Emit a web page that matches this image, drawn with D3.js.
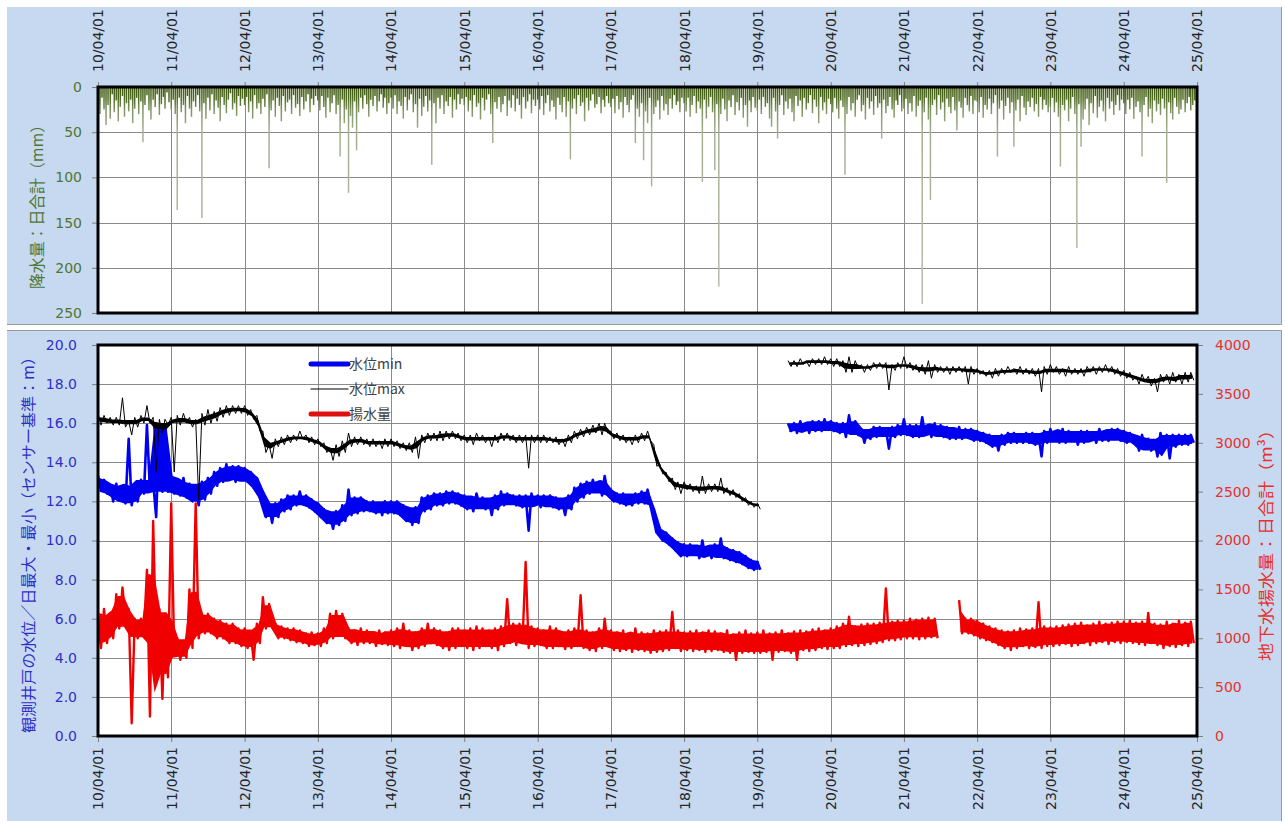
<!DOCTYPE html>
<html><head><meta charset="utf-8">
<script src="https://cdn.jsdelivr.net/npm/d3@7"></script>
<style>
body{margin:0;background:#fff;}
svg{display:block;font-family:"DejaVu Sans","Noto Sans CJK JP",sans-serif;}
</style></head><body>
<svg id="c" width="1285" height="823"></svg>
<script>
// ---------- DATA ----------
const xTickLabels = ["10/04/01","11/04/01","12/04/01","13/04/01","14/04/01","15/04/01","16/04/01","17/04/01","18/04/01","19/04/01","20/04/01","21/04/01","22/04/01","23/04/01","24/04/01","25/04/01"];
const rainTicks = [0,50,100,150,200,250];
const levelTicks = [0,2,4,6,8,10,12,14,16,18,20];
const pumpTicks = [0,500,1000,1500,2000,2500,3000,3500,4000];
const seriesNames = ["水位min","水位max","揚水量"];

// daily rainfall, shown as one value per 10-day period (mm), Apr..Mar per year
const rain2010 = [18,30,12,25,42,20,35,8,28,15,38,22,10,33,18,27,14,40,24,12,30,16,61,20,9,26,36,14,22,8,31,19,11,24,6,17];
const rain2011 = [25,14,30,136,12,28,20,40,10,24,33,16,22,9,27,145,18,35,12,26,8,30,15,23,38,11,20,29,14,7,25,18,32,10,21,13];
const rain2012 = [20,11,28,16,35,9,24,18,30,13,22,8,90,26,15,33,12,21,38,10,27,17,14,30,9,23,19,32,11,25,16,8,28,13,20,10];
const rain2013 = [15,26,10,22,34,12,28,18,9,30,20,77,14,40,25,117,32,45,16,70,28,12,24,9,19,33,14,21,10,27,16,8,23,12,30,18];
const rain2014 = [12,24,9,30,16,21,35,11,26,14,8,28,19,45,13,32,22,10,27,15,86,18,40,12,24,9,30,16,21,11,34,14,25,8,19,13];
const rain2015 = [20,11,27,15,33,9,22,18,36,12,26,14,8,30,62,17,24,11,28,19,10,32,15,23,9,27,13,20,35,11,24,16,8,29,14,21];
const rain2016 = [14,25,10,31,18,9,27,15,22,36,12,20,28,11,33,16,80,24,13,30,9,21,17,38,12,26,15,8,23,19,11,29,14,22,10,18];
const rain2017 = [22,13,29,10,25,17,34,11,20,28,14,9,62,24,33,18,81,27,40,12,110,30,22,15,36,10,26,19,31,13,24,9,20,16,28,12];
const rain2018 = [18,27,12,33,20,10,29,16,24,105,14,35,22,11,28,92,19,221,30,13,25,38,15,22,9,31,17,26,12,34,20,44,15,28,11,23];
const rain2019 = [26,14,30,11,22,18,35,44,12,27,57,20,9,31,16,24,13,28,38,10,21,15,33,12,25,18,9,29,14,22,40,11,26,17,30,13];
const rain2020 = [19,28,12,24,35,15,22,97,30,11,26,18,33,14,9,27,20,36,12,24,16,31,10,23,18,57,14,29,21,11,25,34,15,20,9,27];
const rain2021 = [24,13,30,18,27,10,33,21,15,240,28,12,36,125,20,14,31,9,25,17,38,13,22,29,11,26,48,16,23,34,12,20,27,10,30,15];
const rain2022 = [16,28,11,34,20,25,13,30,18,9,77,24,15,36,21,12,29,17,66,26,14,38,10,23,31,16,22,12,27,19,33,11,25,14,20,28];
const rain2023 = [22,12,28,17,33,88,20,26,14,38,24,11,30,178,19,66,36,25,13,42,18,29,10,34,22,15,27,38,12,24,16,31,20,9,26,14];
const rain2024 = [18,30,14,25,12,35,22,16,28,77,20,11,33,24,40,15,27,19,31,13,24,106,17,29,36,12,22,30,25,14,28,18,11,26,20,15];

// monthly [low, high] envelope of the daily minimum water level (m), Apr 2010 .. Mar 2025
const levelMin = [
[12.6,13.3],[12.4,13.1],[12.0,12.8],[12.2,12.9],[11.9,12.6],[11.8,15.2],[12.0,12.8],[12.4,13.1],[12.6,15.9],[11.2,13.0],[12.5,15.9],[12.5,15.9],
[12.4,13.3],[12.3,13.0],[12.2,13.2],[12.0,12.9],[11.8,12.7],[12.1,13.0],[12.4,13.2],[12.8,13.5],[13.0,13.7],[13.1,13.9],[13.0,13.8],[13.1,13.8],
[13.0,13.7],[12.7,13.5],[12.2,13.2],[11.2,12.5],[10.9,11.8],[11.2,11.9],[11.5,12.1],[11.6,12.3],[11.8,12.3],[11.9,12.5],[11.7,12.3],[11.5,12.1],
[11.2,11.9],[10.9,11.6],[10.6,11.3],[10.8,11.5],[11.0,11.8],[11.3,12.6],[11.4,12.2],[11.5,12.2],[11.5,12.0],[11.4,12.0],[11.3,11.9],[11.4,12.0],
[11.4,12.0],[11.3,12.0],[11.0,11.8],[10.8,11.6],[10.9,11.7],[11.5,12.2],[11.6,12.3],[11.8,12.4],[11.8,12.4],[11.9,12.5],[11.9,12.5],[11.8,12.4],
[11.6,12.3],[11.5,12.2],[11.8,12.4],[11.6,12.2],[11.3,12.1],[11.6,12.3],[11.8,12.5],[11.9,12.4],[11.8,12.3],[11.7,12.3],[10.5,12.3],[11.8,12.4],
[11.7,12.3],[11.8,12.3],[11.7,12.3],[11.6,12.2],[11.3,12.0],[11.6,12.3],[12.0,12.7],[12.2,12.9],[12.4,13.0],[12.5,13.1],[12.3,13.0],[12.4,13.3],
[12.0,12.6],[11.9,12.4],[11.8,12.4],[11.8,12.3],[11.9,12.4],[11.9,12.5],[11.8,12.6],[10.4,11.6],[10.0,10.6],[9.8,10.4],[9.5,10.1],[9.2,9.9],
[9.2,9.8],[9.3,9.8],[9.1,9.7],[9.2,10.0],[9.1,9.7],[9.2,9.8],[9.1,10.1],[9.0,9.6],[8.9,9.5],[8.8,9.4],[8.6,9.2],[8.5,9.0],
[8.5,8.9],null,null,null,null,[15.6,16.0],[15.5,16.0],[15.6,16.1],[15.5,16.0],[15.6,16.1],[15.6,16.1],[15.7,16.2],
[15.6,16.1],[15.5,16.0],[15.3,16.0],[15.5,16.4],[15.4,16.1],[15.0,15.7],[15.2,15.6],[15.3,15.8],[15.4,15.8],[14.7,15.7],[15.3,15.8],[15.4,15.9],
[15.4,16.2],[15.3,15.9],[15.3,15.9],[15.4,16.3],[15.3,15.9],[15.4,16.0],[15.3,15.9],[15.2,15.8],[15.2,15.7],[15.2,15.8],[15.3,15.7],[15.1,15.7],
[15.1,15.6],[15.0,15.5],[14.8,15.4],[14.6,15.3],[14.9,15.4],[15.0,15.5],[15.0,15.5],[15.0,15.4],[15.0,15.5],[14.9,15.5],[14.3,15.4],[15.0,15.6],
[15.1,15.7],[15.0,15.6],[15.0,15.7],[15.1,15.6],[14.9,15.5],[15.0,15.6],[15.1,15.6],[15.0,15.5],[15.1,15.7],[15.1,15.6],[15.2,15.7],[15.1,15.7],
[15.0,15.6],[15.0,15.5],[14.6,15.3],[14.7,15.4],[14.6,15.2],[14.3,15.1],[14.8,15.5],[14.2,15.4],[14.8,15.4],[14.9,15.4],[14.9,15.4],[15.0,15.4]
];

// monthly [low, high] envelope of the daily maximum water level (m)
const levelMax = [
[15.9,16.5],[16.0,16.4],[15.9,16.3],[15.9,16.3],[15.8,17.3],[15.4,16.1],[15.8,16.3],[16.0,16.4],[16.0,16.9],[13.5,16.3],[15.5,16.2],[15.9,16.2],
[13.5,16.3],[15.9,16.4],[16.0,16.5],[15.8,16.3],[12.1,16.2],[15.9,16.5],[16.0,16.7],[16.1,16.6],[16.3,16.8],[16.4,16.9],[16.5,16.9],[16.5,16.9],
[16.4,16.9],[16.2,16.7],[15.6,16.4],[14.5,15.6],[14.2,14.9],[14.8,15.2],[14.9,15.3],[15.0,15.4],[15.1,15.4],[15.2,15.6],[15.0,15.4],[14.9,15.3],
[14.8,15.2],[14.5,15.0],[14.1,14.7],[14.3,14.9],[14.5,15.1],[14.8,15.5],[14.9,15.3],[14.9,15.3],[14.8,15.2],[14.8,15.2],[14.7,15.1],[14.8,15.2],
[14.8,15.2],[14.7,15.1],[14.6,15.0],[14.5,15.0],[14.2,15.3],[15.0,15.4],[15.1,15.5],[15.1,15.5],[15.1,15.6],[15.2,15.6],[15.2,15.6],[15.1,15.5],
[15.0,15.4],[14.9,15.4],[15.1,15.5],[15.0,15.4],[14.8,15.3],[15.0,15.4],[15.1,15.5],[15.1,15.5],[15.0,15.4],[15.0,15.4],[13.7,15.4],[15.0,15.4],
[15.0,15.4],[15.0,15.4],[15.0,15.3],[14.9,15.3],[14.8,15.2],[15.0,15.4],[15.2,15.6],[15.3,15.7],[15.4,15.8],[15.5,15.9],[15.4,16.0],[15.5,16.0],
[15.2,15.6],[15.1,15.5],[15.0,15.4],[14.9,15.3],[15.0,15.4],[15.1,15.5],[15.1,15.6],[13.8,14.9],[13.4,13.9],[13.0,13.5],[12.6,13.2],[12.4,13.0],
[12.6,13.0],[12.5,12.9],[12.4,12.8],[12.4,13.3],[12.5,12.9],[12.5,12.9],[12.4,13.2],[12.3,12.7],[12.2,12.6],[12.0,12.4],[11.8,12.2],[11.7,12.0],
[11.6,11.9],null,null,null,null,[18.9,19.2],[18.9,19.2],[19.0,19.3],[18.9,19.2],[19.0,19.3],[19.0,19.3],[19.0,19.4],
[18.9,19.3],[18.9,19.3],[18.6,19.2],[18.6,19.4],[18.8,19.2],[18.6,19.0],[18.7,19.0],[18.8,19.1],[18.8,19.1],[17.7,19.1],[18.7,19.0],[18.8,19.1],
[18.8,19.4],[18.7,19.1],[18.6,19.0],[18.5,19.0],[18.3,19.2],[18.6,19.0],[18.6,18.9],[18.5,18.9],[18.6,18.9],[18.6,18.9],[18.0,18.9],[18.5,18.9],
[18.5,18.8],[18.4,18.7],[18.3,18.7],[18.4,18.8],[18.5,18.8],[18.6,18.9],[18.5,18.8],[18.5,18.9],[18.5,18.8],[18.4,18.8],[17.6,18.8],[18.5,18.9],
[18.6,19.0],[18.5,18.9],[18.4,18.8],[18.5,18.9],[18.5,18.8],[18.4,18.8],[18.6,18.9],[18.5,18.9],[18.6,18.9],[18.6,19.0],[18.5,18.9],[18.4,18.8],
[18.3,18.7],[18.2,18.6],[18.0,18.4],[18.1,18.5],[17.9,18.4],[17.6,18.3],[18.1,18.5],[18.0,18.5],[18.1,18.6],[18.0,18.5],[18.1,18.6],[18.2,18.6]
];

// monthly [low, high] envelope of daily groundwater pumping (m3)
const pumping = [
[900,1250],[950,1300],[1000,1250],[1100,1450],[1200,1520],[130,1300],[1000,1200],[1050,1200],[200,1700],[900,2200],[380,1300],[600,1200],
[850,2380],[780,1000],[800,950],[900,1500],[1000,2380],[1050,1250],[1050,1250],[1000,1200],[1000,1180],[950,1150],[950,1150],[920,1100],
[900,1100],[780,1050],[950,1150],[1100,1420],[1150,1350],[1000,1150],[1000,1120],[980,1100],[960,1100],[950,1080],[920,1050],[930,1060],
[920,1050],[950,1100],[1000,1250],[1050,1280],[1000,1250],[950,1100],[930,1080],[950,1100],[950,1080],[920,1060],[940,1080],[930,1060],
[920,1080],[900,1100],[930,1150],[880,1080],[900,1060],[920,1100],[950,1150],[930,1100],[900,1080],[880,1050],[900,1100],[920,1100],
[900,1080],[880,1100],[900,1120],[920,1100],[900,1080],[880,1100],[920,1120],[950,1400],[930,1150],[950,1150],[900,1780],[920,1120],
[930,1100],[900,1080],[900,1120],[920,1100],[890,1060],[900,1080],[920,1100],[900,1440],[880,1080],[870,1060],[900,1100],[920,1200],
[880,1080],[870,1060],[880,1080],[860,1050],[880,1100],[870,1060],[850,1050],[860,1080],[870,1070],[880,1080],[900,1270],[870,1080],
[880,1060],[870,1070],[880,1080],[860,1060],[870,1080],[880,1070],[860,1050],[850,1080],[780,1040],[850,1060],[860,1080],[850,1050],
[850,1060],[860,1080],[780,1050],[860,1060],[870,1080],[850,1050],[780,1070],[880,1080],[870,1070],[880,1090],[900,1100],[890,1080],
[900,1100],[900,1120],[920,1150],[930,1220],[920,1120],[930,1140],[940,1150],[950,1150],[960,1160],[980,1510],[980,1170],[990,1180],
[1000,1180],[1000,1200],[990,1190],[1000,1200],[1010,1210],[1000,1200],null,null,null,[1050,1390],[1050,1200],[1030,1200],
[1000,1180],[980,1150],[960,1120],[930,1100],[900,1080],[880,1070],[900,1080],[920,1100],[900,1090],[910,1100],[900,1370],[920,1120],
[920,1110],[930,1120],[940,1130],[920,1140],[930,1150],[950,1160],[930,1130],[950,1150],[960,1170],[940,1150],[960,1160],[950,1170],
[960,1170],[950,1180],[940,1160],[930,1170],[950,1260],[930,1150],[900,1140],[920,1170],[910,1150],[930,1180],[920,1160],[950,1170]
];

// ---------- CHART ----------
const startDate = new Date(2010, 3, 1);
const endDate = new Date(2025, 3, 1);
const rainfall = [].concat(rain2010, rain2011, rain2012, rain2013, rain2014, rain2015, rain2016, rain2017,
  rain2018, rain2019, rain2020, rain2021, rain2022, rain2023, rain2024);
const tickDates = xTickLabels.map((_, i) => d3.timeYear.offset(startDate, i));

const svg = d3.select("#c");
const L = 98, R = 1197;
const x = d3.scaleTime().domain([startDate, endDate]).range([L, R]);
const yRain = d3.scaleLinear().domain([0, 250]).range([87, 313]);
const yLev = d3.scaleLinear().domain([0, 20]).range([736, 345]);
const yPump = d3.scaleLinear().domain([0, 4000]).range([736, 345]);

const bg = "#c6d9f1", grid = "#8a8a8a";
const green = "#4f7630", blue = "#2f2fc8", red = "#e8302c", txt = "#262626";

// panels
svg.append("rect").attr("x", 7).attr("y", 7).attr("width", 1274).attr("height", 317).attr("fill", bg);
svg.append("rect").attr("x", 7).attr("y", 331).attr("width", 1274).attr("height", 490).attr("fill", bg);
svg.append("path").attr("d", "M1281.5,7V324.5H7").attr("fill", "none").attr("stroke", "#9a9a9a");
svg.append("path").attr("d", "M7,330.5H1281.5V821").attr("fill", "none").attr("stroke", "#9a9a9a");

// plot areas
svg.append("rect").attr("x", L).attr("y", 87).attr("width", R - L).attr("height", 226).attr("fill", "#fff");
svg.append("rect").attr("x", L).attr("y", 345).attr("width", R - L).attr("height", 391).attr("fill", "#fff");

// gridlines
const gGrid = svg.append("g").attr("stroke", grid).attr("stroke-width", 1);
tickDates.forEach(d => gGrid.append("line").attr("x1", Math.round(x(d)) + 0.5).attr("x2", Math.round(x(d)) + 0.5).attr("y1", 87).attr("y2", 313));
rainTicks.forEach(v => gGrid.append("line").attr("x1", L).attr("x2", R).attr("y1", Math.round(yRain(v)) + 0.5).attr("y2", Math.round(yRain(v)) + 0.5));
tickDates.forEach(d => gGrid.append("line").attr("x1", Math.round(x(d)) + 0.5).attr("x2", Math.round(x(d)) + 0.5).attr("y1", 345).attr("y2", 736));
levelTicks.forEach(v => gGrid.append("line").attr("x1", L).attr("x2", R).attr("y1", Math.round(yLev(v)) + 0.5).attr("y2", Math.round(yLev(v)) + 0.5));

// rainfall bars (hanging down from the top)
const defs = svg.append("defs");
const grad = defs.append("linearGradient").attr("id", "rg").attr("gradientUnits", "userSpaceOnUse")
  .attr("x1", 0).attr("y1", 87).attr("x2", 0).attr("y2", 313);
[[0, "#3a5510"], [0.05, "#4e6a20"], [0.1, "#7d9460"], [0.2, "#a4b092"], [1, "#b8beb0"]].forEach(s =>
  grad.append("stop").attr("offset", s[0]).attr("stop-color", s[1]));
const rainDate = k => d3.timeDay.offset(d3.timeMonth.offset(startDate, Math.floor(k / 3)), (k % 3) * 10);
svg.append("g").selectAll("line").data(rainfall).join("line")
  .attr("x1", (v, k) => x(rainDate(k))).attr("x2", (v, k) => x(rainDate(k)))
  .attr("y1", yRain(0)).attr("y2", v => yRain(v))
  .attr("stroke", "url(#rg)").attr("stroke-width", 1.5);

// series: monthly envelopes -> filled core band + high/low trace
function trace(arr) {
  const pts = [];
  arr.forEach((p, i) => {
    const d = d3.timeMonth.offset(startDate, i);
    const d2 = d3.timeDay.offset(d, 15);
    if (!p) { pts.push({ d, v: null }, { d: d2, v: null }); }
    else { pts.push({ d, v: p[1] }, { d: d2, v: p[0] }); }
  });
  return pts;
}
function band(arr, shrink) {
  // core band: median of neighbouring months (single-month spikes stay in the trace only)
  return arr.map((p, i) => {
    const d = d3.timeDay.offset(d3.timeMonth.offset(startDate, i), 7);
    if (!p) return { d, lo: null, hi: null };
    const nb = [arr[i - 1], p, arr[i + 1]].filter(q => q);
    const lo = d3.median(nb, q => q[0]), hi = d3.median(nb, q => q[1]);
    const s = (hi - lo) * shrink;
    return { d, lo: lo + s, hi: hi - s };
  });
}
function drawSeries(arr, y, color, shrink, width) {
  const ar = d3.area().defined(p => p.lo != null).x(p => x(p.d)).y0(p => y(p.lo)).y1(p => y(p.hi));
  svg.append("path").attr("d", ar(band(arr, shrink))).attr("fill", color);
  const ln = d3.line().defined(p => p.v != null).x(p => x(p.d)).y(p => y(p.v));
  svg.append("path").attr("d", ln(trace(arr))).attr("fill", "none").attr("stroke", color)
    .attr("stroke-width", width).attr("stroke-linejoin", "round");
}
drawSeries(levelMin, yLev, "#0000f0", 0, 2.6);
drawSeries(levelMax, yLev, "#000000", 0.28, 1.0);
drawSeries(pumping, yPump, "#f00000", 0.05, 2.4);

// axes
function styleAxis(g, color) {
  g.select(".domain").remove();
  g.selectAll(".tick line").attr("stroke", "#7f7f7f");
  g.selectAll("text").attr("fill", color).style("font-size", "14px").style("font-family", '"DejaVu Sans",sans-serif');
}
const axTop = svg.append("g").attr("transform", "translate(0,87)")
  .call(d3.axisTop(x).tickValues(tickDates).tickSize(5).tickFormat((d, i) => xTickLabels[i]));
styleAxis(axTop, txt);
axTop.selectAll("text").attr("transform", "rotate(-90)").attr("x", 15).attr("y", 0).attr("dy", "0.35em").style("text-anchor", "start");

const axBot = svg.append("g").attr("transform", "translate(0,736)")
  .call(d3.axisBottom(x).tickValues(tickDates).tickSize(6).tickFormat((d, i) => xTickLabels[i]));
styleAxis(axBot, txt);
axBot.selectAll("text").attr("transform", "rotate(-90)").attr("x", -11).attr("y", 0).attr("dy", "0.35em").style("text-anchor", "end");

const axRain = svg.append("g").attr("transform", `translate(${L},0)`)
  .call(d3.axisLeft(yRain).tickValues(rainTicks).tickSize(6).tickPadding(10).tickFormat(d3.format("d")));
styleAxis(axRain, green);

const axLev = svg.append("g").attr("transform", `translate(${L},0)`)
  .call(d3.axisLeft(yLev).tickValues(levelTicks).tickSize(6).tickPadding(15).tickFormat(d3.format(".1f")));
styleAxis(axLev, blue);

const axPump = svg.append("g").attr("transform", `translate(${R},0)`)
  .call(d3.axisRight(yPump).tickValues(pumpTicks).tickSize(6).tickPadding(12).tickFormat(d3.format("d")));
styleAxis(axPump, red);

// plot borders
svg.append("rect").attr("x", L).attr("y", 87).attr("width", R - L).attr("height", 226)
  .attr("fill", "none").attr("stroke", "#000").attr("stroke-width", 3);
svg.append("rect").attr("x", L).attr("y", 345).attr("width", R - L).attr("height", 391)
  .attr("fill", "none").attr("stroke", "#000").attr("stroke-width", 3);

// axis titles
const cjk = '"Noto Sans CJK JP",sans-serif';
function vTitle(t, cx, cy, len, color, size) {
  svg.append("text").attr("transform", `translate(${cx},${cy}) rotate(-90)`)
    .attr("text-anchor", "middle").attr("dy", "0.35em")
    .attr("textLength", len).attr("lengthAdjust", "spacingAndGlyphs")
    .attr("fill", color).style("font-size", size + "px").style("font-family", cjk).text(t);
}
vTitle("降水量：日合計（mm）", 38, 203, 172, green, 15.5);
vTitle("観測井戸の水位／日最大・最小（センサー基準：m）", 29, 541, 384, blue, 15);
vTitle("地下水揚水量：日合計（m³）", 1266, 541, 240, red, 16);

// legend
const legend = [
  { name: seriesNames[0], color: "#0000f0", w: 5 },
  { name: seriesNames[1], color: "#000", w: 1.2 },
  { name: seriesNames[2], color: "#e01010", w: 5 }
];
const lg = svg.append("g");
legend.forEach((s, i) => {
  const yy = 364 + i * 25;
  lg.append("line").attr("x1", 311).attr("x2", 348).attr("y1", yy).attr("y2", yy)
    .attr("stroke", s.color).attr("stroke-width", s.w).attr("stroke-linecap", "round");
  lg.append("text").attr("x", 349).attr("y", yy).attr("dy", "0.35em").attr("fill", "#404040")
    .style("font-size", "14px").style("font-family", cjk).text(s.name);
});
</script>
</body></html>
